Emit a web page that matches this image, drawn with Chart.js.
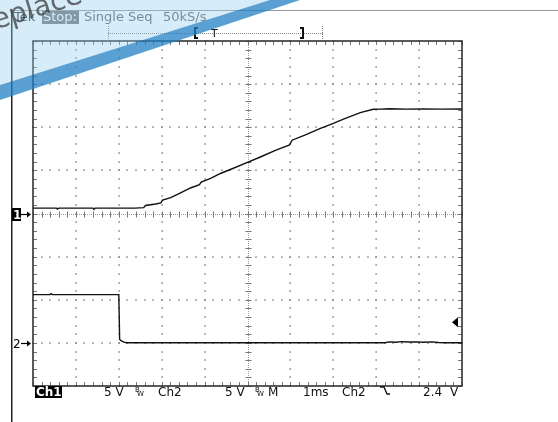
<!DOCTYPE html>
<html><head><meta charset="utf-8">
<script src="https://cdn.jsdelivr.net/npm/chart.js@4/dist/chart.umd.min.js"></script>
<style>html,body{margin:0;padding:0;background:#fff;overflow:hidden}canvas{display:block}</style>
</head><body>
<canvas id="c" width="558" height="422"></canvas>
<script>
// ---- Data (time in ms relative to screen centre, voltages in V) ----
const ch1Time  = [-5.00,-4.45,-4.43,-4.40,-3.60,-3.58,-3.55,-2.62,-2.42,-2.38,-2.14,-2.02,-1.98,-1.79,-1.56,-1.33,-1.12,-1.08,-0.86,-0.63,-0.40,0.00,0.30,0.65,0.98,1.04,1.35,1.70,2.00,2.28,2.63,2.93,3.10,3.30,3.70,4.10,4.50,5.00];
const ch1Volts = [0.62,0.62,0.52,0.62,0.62,0.52,0.62,0.62,0.68,0.93,1.10,1.22,1.55,1.85,2.40,2.96,3.35,3.65,4.06,4.64,5.10,5.92,6.55,7.31,7.95,8.50,9.11,9.86,10.44,11.02,11.70,12.08,12.10,12.14,12.10,12.12,12.10,12.12];
const ch2Time  = [-5.00,-4.60,-4.58,-4.55,-3.90,-3.45,-3.00,-2.98,-2.94,-2.88,-2.82,-1.00,1.00,3.20,3.30,3.45,3.60,3.75,3.95,4.10,4.30,4.45,4.60,5.00];
const ch2Volts = [5.60,5.60,5.70,5.60,5.60,5.60,5.60,0.40,0.23,0.08,0.02,0.02,0.02,0.02,0.12,0.08,0.15,0.10,0.12,0.08,0.12,0.05,0.02,0.02];

const ch1VoltsPerDiv = 5, ch2VoltsPerDiv = 5;
const ch1PositionDiv = 0, ch2PositionDiv = -3;
const triggerLevelVolts = 2.4;
const xDivisions = [-5,-4,-3,-2,-1,0,1,2,3,4,5];
const yDivisions = [-4,-3,-2,-1,0,1,2,3,4];
const topStatus = ["Tek", "Stop:", "Single Seq", "50kS/s"];
const bottomStatus = ["Ch1", "5 V", "Ch2", "5 V", "M", "1ms", "Ch2", "2.4 V"];

const ch1Points = ch1Time.map((t,i)=>({x:t, y:ch1Volts[i]/ch1VoltsPerDiv + ch1PositionDiv}));
const ch2Points = ch2Time.map((t,i)=>({x:t, y:ch2Volts[i]/ch2VoltsPerDiv + ch2PositionDiv}));

const FONT = '"DejaVu Sans", sans-serif';

function drawGraticule(chart){
  const {ctx, chartArea:a, scales:{x,y}} = chart;
  ctx.save();
  ctx.fillStyle = '#222';
  ctx.fillRect(11, 10, 1.5, 412);
  ctx.fillStyle = '#999';
  ctx.fillRect(11, 10, 547, 1);

  const minors = [];
  for (let k=0;k<=50;k++) minors.push(-5 + k*0.2);
  const yMinors = [];
  for (let k=0;k<=40;k++) yMinors.push(-4 + k*0.2);

  ctx.fillStyle = '#8a8a8a';
  xDivisions.forEach(d=>{
    if (d===0 || d===-5 || d===5) return;
    const px = Math.round(x.getPixelForValue(d));
    yMinors.forEach(m=>{ const py = Math.round(y.getPixelForValue(m)); ctx.fillRect(px-0.5, py-1, 1.2, 2); });
  });
  yDivisions.forEach(d=>{
    if (d===0 || d===-4 || d===4) return;
    const py = Math.round(y.getPixelForValue(d));
    minors.forEach(m=>{ const px = Math.round(x.getPixelForValue(m)); ctx.fillRect(px-1, py-0.5, 2, 1.2); });
  });
  const cx = Math.round(x.getPixelForValue(0)) + 0.5;
  const cy = Math.round(y.getPixelForValue(0)) + 0.5;
  ctx.strokeStyle = '#9a9a9a'; ctx.lineWidth = 1; ctx.setLineDash([1,1]);
  ctx.beginPath(); ctx.moveTo(cx, a.top); ctx.lineTo(cx, a.bottom); ctx.moveTo(a.left, cy); ctx.lineTo(a.right, cy); ctx.stroke();
  ctx.setLineDash([]);
  ctx.strokeStyle = '#777';
  ctx.beginPath();
  minors.forEach(m=>{ const px = Math.round(x.getPixelForValue(m))+0.5; ctx.moveTo(px, cy-3); ctx.lineTo(px, cy+3);
    ctx.moveTo(px, a.top); ctx.lineTo(px, a.top+4); ctx.moveTo(px, a.bottom); ctx.lineTo(px, a.bottom-4); });
  yMinors.forEach(m=>{ const py = Math.round(y.getPixelForValue(m))+0.5; ctx.moveTo(cx-3, py); ctx.lineTo(cx+3, py);
    ctx.moveTo(a.left, py); ctx.lineTo(a.left+4, py); ctx.moveTo(a.right, py); ctx.lineTo(a.right-4, py); });
  ctx.stroke();
  ctx.strokeStyle = '#333'; ctx.lineWidth = 1.6;
  ctx.strokeRect(a.left, a.top, a.right-a.left, a.bottom-a.top);
  ctx.restore();
}

function arrow(ctx, x0, yc){
  ctx.beginPath(); ctx.moveTo(x0, yc); ctx.lineTo(x0+8, yc); ctx.stroke();
  ctx.beginPath(); ctx.moveTo(x0+10, yc); ctx.lineTo(x0+6, yc-3); ctx.lineTo(x0+6, yc+3); ctx.closePath(); ctx.fill();
}

function drawLabels(chart){
  const {ctx, scales:{x,y}} = chart;
  ctx.save();
  ctx.textBaseline = 'alphabetic';
  ctx.font = '13px ' + FONT;
  ctx.fillStyle = '#333'; ctx.fillText(topStatus[0], 14, 21);
  ctx.fillStyle = '#7a7a7a'; ctx.fillRect(42, 11, 37, 13);
  ctx.fillStyle = '#fff'; ctx.fillText(topStatus[1], 43, 21);
  ctx.fillStyle = '#666'; ctx.fillText(topStatus[2], 84, 21); ctx.fillText(topStatus[3], 163, 21);
  ctx.fillStyle = '#888';
  for (let px=108; px<=322; px+=2) ctx.fillRect(px, 33, 1, 1);
  for (let py=26; py<=38; py+=2) { ctx.fillRect(108, py, 1, 1); ctx.fillRect(322, py, 1, 1); }
  ctx.strokeStyle = '#111'; ctx.lineWidth = 2;
  ctx.beginPath(); ctx.moveTo(198, 28); ctx.lineTo(195, 28); ctx.lineTo(195, 38); ctx.lineTo(198, 38);
  ctx.moveTo(300, 28); ctx.lineTo(303, 28); ctx.lineTo(303, 38); ctx.lineTo(300, 38); ctx.stroke();
  ctx.fillStyle = '#111'; ctx.font = '11px ' + FONT; ctx.fillText('T', 211, 37);

  ctx.font = 'bold 12px ' + FONT;
  const y1 = Math.round(y.getPixelForValue(ch1PositionDiv));
  ctx.fillStyle = '#000'; ctx.fillRect(12, y1-6, 9, 13);
  ctx.fillStyle = '#fff'; ctx.fillText('1', 13, y1+5);
  ctx.fillStyle = '#000'; ctx.strokeStyle = '#000'; ctx.lineWidth = 1.2;
  arrow(ctx, 21, y1+0.5);
  const y2 = Math.round(y.getPixelForValue(ch2PositionDiv));
  ctx.font = '12px ' + FONT;
  ctx.fillText('2', 13, y2+5);
  arrow(ctx, 21, y2+0.5);

  const yt = y.getPixelForValue(triggerLevelVolts/ch2VoltsPerDiv + ch2PositionDiv);
  ctx.beginPath(); ctx.moveTo(452, yt); ctx.lineTo(458, yt-5); ctx.lineTo(458, yt+5); ctx.closePath(); ctx.fill();

  const by = 396;
  ctx.fillStyle = '#000'; ctx.fillRect(35, 386, 27, 12);
  ctx.font = 'bold 12px ' + FONT; ctx.fillStyle = '#fff'; ctx.fillText(bottomStatus[0], 36, by);
  ctx.font = '12px ' + FONT; ctx.fillStyle = '#111';
  ctx.fillText(bottomStatus[1], 104, by);
  ctx.fillText(bottomStatus[2], 158, by);
  ctx.fillText(bottomStatus[3], 225, by);
  ctx.fillText(bottomStatus[4], 268, by);
  ctx.fillText(bottomStatus[5], 303, by);
  ctx.fillText(bottomStatus[6], 342, by);
  ctx.fillText('2.4', 423, by); ctx.fillText('V', 450, by);
  ctx.font = '7px ' + FONT;
  [135, 255].forEach(bx=>{ ctx.fillText('B', bx, 392); ctx.fillText('W', bx+2, 396); });
  ctx.strokeStyle = '#111'; ctx.lineWidth = 1.3;
  ctx.beginPath(); ctx.moveTo(380, 387); ctx.lineTo(384, 387); ctx.lineTo(387, 394); ctx.lineTo(390, 394); ctx.stroke();
  ctx.restore();
}

function drawWatermark(chart){
  const ctx = chart.ctx;
  ctx.save();
  ctx.fillStyle = 'rgba(150,205,238,0.38)';
  ctx.beginPath(); ctx.moveTo(0,0); ctx.lineTo(270,0); ctx.lineTo(0,85); ctx.closePath(); ctx.fill();
  ctx.fillStyle = 'rgba(35,128,195,0.75)';
  ctx.beginPath(); ctx.moveTo(0,85); ctx.lineTo(270,0); ctx.lineTo(300,0); ctx.lineTo(0,100); ctx.closePath(); ctx.fill();
  ctx.translate(-22, 35); ctx.rotate(-0.30);
  ctx.font = '28px ' + FONT; ctx.fillStyle = 'rgba(60,60,60,0.75)';
  ctx.fillText('Replace', 0, 0);
  ctx.restore();
}

const scopePlugin = {
  id: 'scope',
  beforeDatasetsDraw(chart){ drawGraticule(chart); },
  afterDatasetsDraw(chart){ drawLabels(chart); drawWatermark(chart); }
};

new Chart(document.getElementById('c'), {
  type: 'line',
  data: { datasets: [
    { label: 'Ch1', data: ch1Points, borderColor: '#111', borderWidth: 1.4, pointRadius: 0, tension: 0, fill: false },
    { label: 'Ch2', data: ch2Points, borderColor: '#111', borderWidth: 1.4, pointRadius: 0, tension: 0, fill: false }
  ]},
  options: {
    responsive: false, animation: false, devicePixelRatio: 1,
    layout: { padding: { left: 33, top: 41, right: 96, bottom: 36 } },
    plugins: { legend: { display: false }, tooltip: { enabled: false } },
    scales: {
      x: { type: 'linear', min: -5, max: 5, display: false },
      y: { type: 'linear', min: -4, max: 4, display: false }
    }
  },
  plugins: [scopePlugin]
});
</script>
</body></html>
